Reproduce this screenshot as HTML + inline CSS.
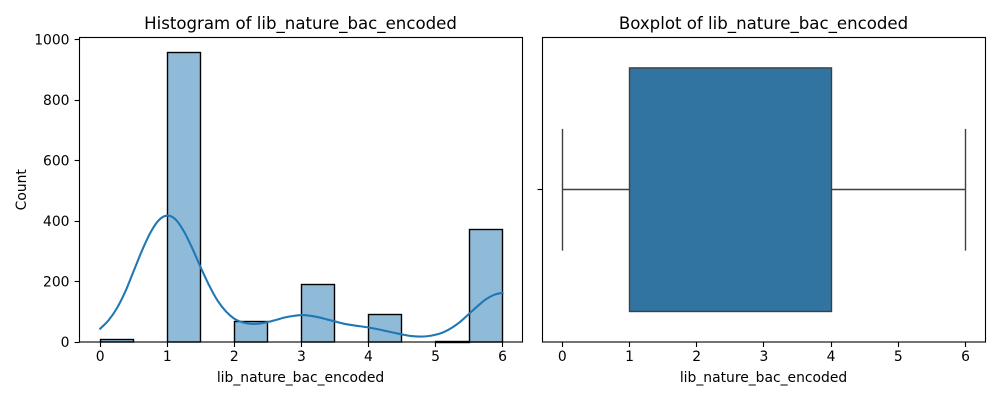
<!DOCTYPE html>
<html lang="en">
<head>
<meta charset="utf-8">
<title>lib_nature_bac_encoded</title>
<style>
html,body{margin:0;padding:0;background:#fff;width:1000px;height:400px;overflow:hidden}
svg{display:block}
text{font-family:"DejaVu Sans",sans-serif;fill:#000}
.title{font-size:16.6px;text-anchor:middle}
.axis-label{font-size:13.89px;text-anchor:middle}
.tick-label{font-size:13.89px}
</style>
</head>
<body>
<svg id="chart" xmlns="http://www.w3.org/2000/svg" width="1000" height="400" viewBox="0 0 1000 400">
  <rect x="0" y="0" width="1000" height="400" fill="#fff"/>
  <g id="hist-panel"></g>
  <g id="box-panel"></g>
  <text class="title" x="300.5" y="29">Histogram of lib_nature_bac_encoded</text>
  <text class="title" x="763.5" y="29">Boxplot of lib_nature_bac_encoded</text>
  <text class="axis-label" x="300.5" y="382">lib_nature_bac_encoded</text>
  <text class="axis-label" x="763.5" y="382">lib_nature_bac_encoded</text>
  <text class="axis-label" transform="translate(26,189.75) rotate(-90)">Count</text>
</svg>
<script>
const binStartsAll = [0, 0.5, 1, 1.5, 2, 2.5, 3, 3.5, 4, 4.5, 5, 5.5];
const binCountsAll = [9, 0, 958, 0, 67, 0, 190, 0, 91, 0, 2, 372];
const binWidth = 0.5;
const kdeX = [0, 0.125, 0.25, 0.375, 0.5, 0.625, 0.75, 0.875, 1, 1.125, 1.25, 1.375, 1.5, 1.625, 1.75, 1.875, 2, 2.125, 2.25, 2.375, 2.5, 2.625, 2.75, 2.875, 3, 3.125, 3.25, 3.375, 3.5, 3.625, 3.75, 3.875, 4, 4.125, 4.25, 4.375, 4.5, 4.625, 4.75, 4.875, 5, 5.125, 5.25, 5.375, 5.5, 5.625, 5.75, 5.875, 6];
const kdeY = [44, 72, 112, 167, 235, 303, 362, 403, 418, 405, 365, 309, 246, 187, 137, 101, 77, 65, 60, 61, 66, 73, 81, 86, 89, 87, 82, 75, 68, 61, 56, 52, 48, 43, 37, 31, 25, 20, 18, 19, 24, 33, 48, 68, 93, 118, 141, 156, 163];
const histXTicks = [0, 1, 2, 3, 4, 5, 6];
const histYTicks = [0, 200, 400, 600, 800, 1000];
const boxXTicks = [0, 1, 2, 3, 4, 5, 6];
const boxWhiskerLow = 0;
const boxQ1 = 1;
const boxQ3 = 4;
const boxWhiskerHigh = 6;

const NS = 'http://www.w3.org/2000/svg';
const histPanel = document.getElementById('hist-panel');
const boxPanel = document.getElementById('box-panel');

function histX(v) { return 100.2 + 67.06 * v; }
function histYScale(v) { return 342 - 0.3025 * v; }
function boxX(v) { return 562.3 + 67.2 * v; }
function snap(p) { return Math.floor(p) + 0.5; }

function make(parent, tag, attrs) {
  const el = document.createElementNS(NS, tag);
  for (const k in attrs) el.setAttribute(k, attrs[k]);
  parent.appendChild(el);
  return el;
}

/* histogram background */
const histBg = make(histPanel, 'rect', {x: 79.5, y: 37.5, width: 443, height: 304.5, fill: '#fff'});



/* histogram bars */
binStartsAll.forEach(function (start, i) {
  if (binCountsAll[i] <= 0) return;
  const x0 = snap(histX(start));
  const x1 = snap(histX(start + binWidth));
  const y0 = snap(histYScale(binCountsAll[i]));
  const bar = make(histPanel, 'rect', {
    x: x0, y: y0, width: x1 - x0, height: Math.max(342 - y0, 1),
    fill: 'rgba(31,119,180,0.5)', stroke: '#000', 'stroke-width': 1.39
  });
  
  
});

/* kde curve */
const kdePts = kdeX.map(function (v, i) { return [histX(v), histYScale(kdeY[i])]; });
let kdePath = 'M' + kdePts[0][0].toFixed(2) + ' ' + kdePts[0][1].toFixed(2);
for (let i = 0; i < kdePts.length - 1; i++) {
  const p0 = kdePts[Math.max(i - 1, 0)], p1 = kdePts[i], p2 = kdePts[i + 1], p3 = kdePts[Math.min(i + 2, kdePts.length - 1)];
  const c1 = [p1[0] + (p2[0] - p0[0]) / 6, p1[1] + (p2[1] - p0[1]) / 6];
  const c2 = [p2[0] - (p3[0] - p1[0]) / 6, p2[1] - (p3[1] - p1[1]) / 6];
  kdePath += 'C' + c1[0].toFixed(2) + ' ' + c1[1].toFixed(2) + ' ' + c2[0].toFixed(2) + ' ' + c2[1].toFixed(2) + ' ' + p2[0].toFixed(2) + ' ' + p2[1].toFixed(2);
}
const kdeLine = make(histPanel, 'path', {d: kdePath, fill: 'none', stroke: '#1f77b4', 'stroke-width': 2.08, 'stroke-linecap': 'square'});



/* histogram x ticks */
histXTicks.forEach(function (v) {
  const x = snap(histX(v));
  const tick = make(histPanel, 'line', {x1: x, x2: x, y1: 342, y2: 347, stroke: '#000', 'stroke-width': 1.11});
  
  
  const label = make(histPanel, 'text', {x: histX(v), y: 361, 'text-anchor': 'middle', class: 'tick-label'});
  label.textContent = String(v);
  
  
});

/* histogram y ticks */
histYTicks.forEach(function (v) {
  const y = snap(histYScale(v));
  const tick = make(histPanel, 'line', {x1: 74.6, x2: 79.5, y1: y, y2: y, stroke: '#000', 'stroke-width': 1.11});
  
  
  const label = make(histPanel, 'text', {x: 69.5, y: histYScale(v) + 5, 'text-anchor': 'end', class: 'tick-label'});
  label.textContent = String(v);
  
  
});

/* histogram frame */
const histFrame = make(histPanel, 'rect', {x: 79.5, y: 37.5, width: 443, height: 304.5, fill: 'none', stroke: '#000', 'stroke-width': 1.11});



/* boxplot */
const boxMid = 189.5;
const lineCol = '#3f3f3f';
const whiskerLowLine = make(boxPanel, 'line', {x1: boxX(boxWhiskerLow), x2: boxX(boxQ1), y1: boxMid, y2: boxMid, stroke: lineCol, 'stroke-width': 1.39});


const whiskerHighLine = make(boxPanel, 'line', {x1: boxX(boxQ3), x2: boxX(boxWhiskerHigh), y1: boxMid, y2: boxMid, stroke: lineCol, 'stroke-width': 1.39});


const capLow = make(boxPanel, 'line', {x1: snap(boxX(boxWhiskerLow)), x2: snap(boxX(boxWhiskerLow)), y1: 128.9, y2: 250.6, stroke: lineCol, 'stroke-width': 1.39});


const capHigh = make(boxPanel, 'line', {x1: snap(boxX(boxWhiskerHigh)), x2: snap(boxX(boxWhiskerHigh)), y1: 128.9, y2: 250.6, stroke: lineCol, 'stroke-width': 1.39});


const boxRect = make(boxPanel, 'rect', {
  x: snap(boxX(boxQ1)), y: 67.9,
  width: snap(boxX(boxQ3)) - snap(boxX(boxQ1)), height: 243.6,
  fill: '#3274a1', stroke: lineCol, 'stroke-width': 1.39
});



boxXTicks.forEach(function (v) {
  const x = snap(boxX(v));
  const tick = make(boxPanel, 'line', {x1: x, x2: x, y1: 342, y2: 347, stroke: '#000', 'stroke-width': 1.11});
  
  
  const label = make(boxPanel, 'text', {x: boxX(v), y: 361, 'text-anchor': 'middle', class: 'tick-label'});
  label.textContent = String(v);
  
  
});

const boxYTick = make(boxPanel, 'line', {x1: 537.6, x2: 542.5, y1: boxMid, y2: boxMid, stroke: '#000', 'stroke-width': 1.11});



const boxFrame = make(boxPanel, 'rect', {x: 542.5, y: 37.5, width: 443, height: 304.5, fill: 'none', stroke: '#000', 'stroke-width': 1.11});


</script>
</body>
</html>
